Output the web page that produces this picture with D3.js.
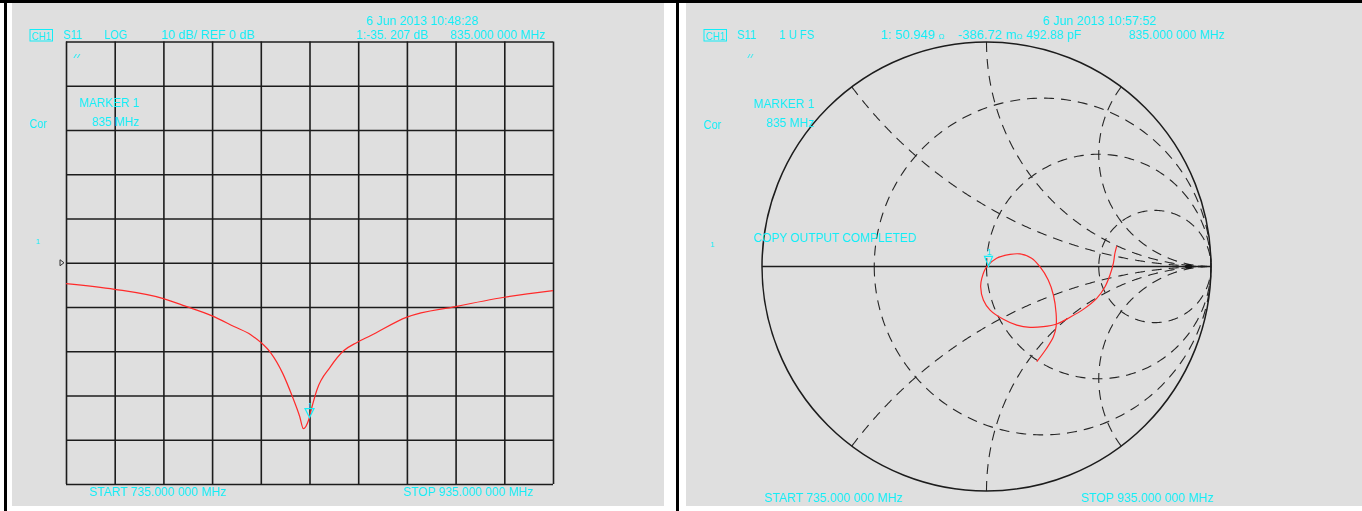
<!DOCTYPE html>
<html><head><meta charset="utf-8">
<script src="https://cdn.jsdelivr.net/npm/d3@7/dist/d3.min.js"></script>
<style>html,body{margin:0;padding:0;background:#fff;}svg{display:block;}</style>
</head><body>
<svg id="chart" width="1362" height="511"></svg>
<script>
// ---------------- DATA ----------------
// Log magnitude panel (S11, 735–935 MHz)
const freqGridMHz = [735,755,775,795,815,835,855,875,895,915,935];
const dbGrid = [-50,-40,-30,-20,-10,0,10,20,30,40,50];
const freqMHz = [735,755,775,784,795,804,811,815,819,824,828,831,832.5,834.6,836,838,843.5,849,854.5,860,875,895,915,935];
const s11dB  = [-4.7,-6.0,-8.1,-9.8,-12.0,-14.4,-16.3,-18.0,-20.3,-25.0,-30.3,-34.8,-37.5,-35.6,-32.6,-28.8,-23.6,-19.9,-18.0,-16.5,-12.3,-9.9,-7.8,-6.3];
const markerFreqMHz = 835, markerDb = -35.207;
// Smith panel
const smithR = [1/3, 1, 3];
const smithX = [0.5, 1, 2, -0.5, -1, -2];
const gammaRe = [0.580,0.572,0.565,0.550,0.528,0.491,0.431,0.372,0.313,0.253,0.194,0.135,0.075,0.016,-0.014,-0.026,-0.021,0.001,0.045,0.105,0.149,0.201,0.238,0.275,0.298,0.310,0.310,0.298,0.268,0.224];
const gammaIm = [0.091,0.059,0.014,-0.038,-0.090,-0.142,-0.191,-0.226,-0.256,-0.268,-0.271,-0.261,-0.235,-0.194,-0.149,-0.090,-0.053,-0.001,0.037,0.054,0.056,0.037,-0.001,-0.060,-0.127,-0.208,-0.268,-0.313,-0.364,-0.424];
const markerGamma = [0.009, -0.004];

// ---------------- DRAW ----------------
const CY = "#12eef8", FONT = "'Liberation Sans', Arial, sans-serif";
const svg = d3.select("#chart");
svg.append("rect").attr("width",1362).attr("height",511).attr("fill","#fff");
svg.append("rect").attr("x",12).attr("y",3).attr("width",652).attr("height",503).attr("fill","#dfdfdf");
svg.append("rect").attr("x",686).attr("y",3).attr("width",676).attr("height",503).attr("fill","#dfdfdf");
svg.append("rect").attr("x",0).attr("y",0).attr("width",1362).attr("height",3).attr("fill","#000");
svg.append("rect").attr("x",4).attr("y",0).attr("width",3).attr("height",511).attr("fill","#000");
svg.append("rect").attr("x",676).attr("y",0).attr("width",3).attr("height",511).attr("fill","#000");

function label(x0, x1, base, txt, size){
  const t = svg.append("text").attr("x",x0).attr("y",base).attr("fill",CY)
    .attr("font-family",FONT).attr("font-size",size||13).text(txt);
  if (x1) t.attr("textLength",x1-x0).attr("lengthAdjust","spacingAndGlyphs");
  return t;
}
function chBox(x0){
  svg.append("rect").attr("x",x0).attr("y",29.5).attr("width",22.5).attr("height",11.5)
    .attr("fill","none").attr("stroke",CY).attr("stroke-width",1);
  label(x0+1.5, x0+21, 39.5, "CH1", 11);
}

// ----- Left: LOG MAG -----
const x = d3.scaleLinear().domain([735,935]).range([66,553]);
const y = d3.scaleLinear().domain([-50,50]).range([484,41.5]);
const gx = svg.append("g").attr("transform",`translate(0,${y(-50)})`)
  .call(d3.axisBottom(x).tickValues(freqGridMHz).tickSize(-(y(-50)-y(50))).tickFormat(""));
const gy = svg.append("g").attr("transform",`translate(${x(735)},0)`)
  .call(d3.axisLeft(y).tickValues(dbGrid).tickSize(-(x(935)-x(735))).tickFormat(""));
[gx,gy].forEach(g=>{ g.select(".domain").remove(); g.selectAll("line").attr("stroke","#1c1c1c").attr("stroke-width",1.6); });

svg.append("path").datum(freqMHz.map((f,i)=>[f,s11dB[i]]))
  .attr("fill","none").attr("stroke","#ff2a2a").attr("stroke-width",1.2)
  .attr("d", d3.line().x(d=>x(d[0])).y(d=>y(d[1])).curve(d3.curveMonotoneX));

// reference arrow ▷
const ry = y(0);
svg.append("path").attr("d",`M60,${ry-3}L64,${ry}L60,${ry+3}Z`).attr("fill","none").attr("stroke","#333").attr("stroke-width",1);
// marker
const mx = x(markerFreqMHz), my = y(markerDb);
svg.append("path").attr("d",`M${mx},${my-1}L${mx-4.5},${my-10}L${mx+4.5},${my-10}Z`).attr("fill","none").attr("stroke",CY).attr("stroke-width",1.2);
label(mx-2, null, my-10, "1", 9);

label(366, 478, 25, "6 Jun 2013  10:48:28");
chBox(30);
label(63, 82, 39, "S11");
label(104, 127, 39, "LOG");
label(161, 254.5, 39, "10 dB/  REF 0 dB");
label(356, 428, 39, "1:-35. 207 dB");
label(450, 545, 39, "835.000 000 MHz");
label(73, 80, 58, "//", 6);
label(79, 139, 106.5, "MARKER 1");
label(91.7, 139, 126.3, "835 MHz");
label(29.3, 46.5, 128.3, "Cor");
label(35.5, null, 244, "1", 8);
label(89, 226, 496, "START 735.000 000 MHz");
label(403, 533, 496, "STOP 935.000 000 MHz");

// ----- Right: Smith chart -----
const sx = d3.scaleLinear().domain([-1,1]).range([762,1211]);
const sy = d3.scaleLinear().domain([-1,1]).range([491,42]);
const sline = d3.line().x(d=>sx(d[0])).y(d=>sy(d[1]));
const g = svg.append("g");
// r circles
smithR.forEach(r=>{
  const c = r/(1+r), rad = 1/(1+r);
  const pts = d3.range(0, 361, 1).map(a=>{const t=Math.PI+a*Math.PI/180; return [c+rad*Math.cos(t), rad*Math.sin(t)];});
  g.append("path").attr("d",sline(pts)).attr("fill","none").attr("stroke","#262626").attr("stroke-width",1.1).attr("stroke-dasharray","10,7");
});
// x arcs
smithX.forEach(xv=>{
  const pts = d3.range(0, 0.9995, 0.0025).map(t=>{
    const r = t/(1-t);
    const ar=r-1, ai=xv, br=r+1, bi=xv, den=br*br+bi*bi;
    return [(ar*br+ai*bi)/den, (ai*br-ar*bi)/den];
  });
  pts.push([1,0]);
  g.append("path").attr("d",sline(pts)).attr("fill","none").attr("stroke","#262626").attr("stroke-width",1.1).attr("stroke-dasharray","10,7");
});
// outer circle & real axis
g.append("circle").attr("cx",sx(0)).attr("cy",sy(0)).attr("r",sx(1)-sx(0)).attr("fill","none").attr("stroke","#1c1c1c").attr("stroke-width",1.5);
g.append("line").attr("x1",sx(-1)).attr("x2",sx(1)).attr("y1",sy(0)).attr("y2",sy(0)).attr("stroke","#1c1c1c").attr("stroke-width",1.4);
g.append("ellipse").attr("cx",sx(0.9)).attr("cy",sy(0)).attr("rx",3.5).attr("ry",2.5).attr("fill","#111");
// trace
svg.append("path").datum(gammaRe.map((v,i)=>[v,gammaIm[i]]))
  .attr("fill","none").attr("stroke","#ff2a2a").attr("stroke-width",1.2)
  .attr("d", d3.line().x(d=>sx(d[0])).y(d=>sy(d[1])).curve(d3.curveCatmullRom.alpha(0.5)));
// marker
const smx = sx(markerGamma[0]), smy = sy(markerGamma[1]);
svg.append("path").attr("d",`M${smx},${smy-1}L${smx-4},${smy-11}L${smx+4},${smy-11}Z`).attr("fill","none").attr("stroke",CY).attr("stroke-width",1.2);
label(smx-2, null, smy-12, "1", 9);

label(1042.6, 1156, 25, "6 Jun 2013  10:57:52");
chBox(704);
label(736.7, 756, 39, "S11");
label(779, 814, 39, "1 U FS");
const t1 = label(880.5, null, 39, "1: 50.949 "); t1.append("tspan").attr("font-size",8).text("Ω");
const t2 = label(957.7, null, 39, "-386.72 m"); t2.append("tspan").attr("font-size",8).text("Ω");
label(1026, 1081, 39, "492.88 pF");
label(1128.6, 1224.4, 39, "835.000 000 MHz");
label(747, 753, 58, "//", 6);
label(753.3, 814, 108, "MARKER 1");
label(766, 814, 127, "835 MHz");
label(703.3, 721, 129, "Cor");
label(710, null, 247, "1", 8);
label(753.3, 916, 242, "COPY OUTPUT COMPLETED");
label(764, 902.3, 502, "START 735.000 000 MHz");
label(1080.7, 1213.3, 502, "STOP 935.000 000 MHz");
</script>
</body></html>
